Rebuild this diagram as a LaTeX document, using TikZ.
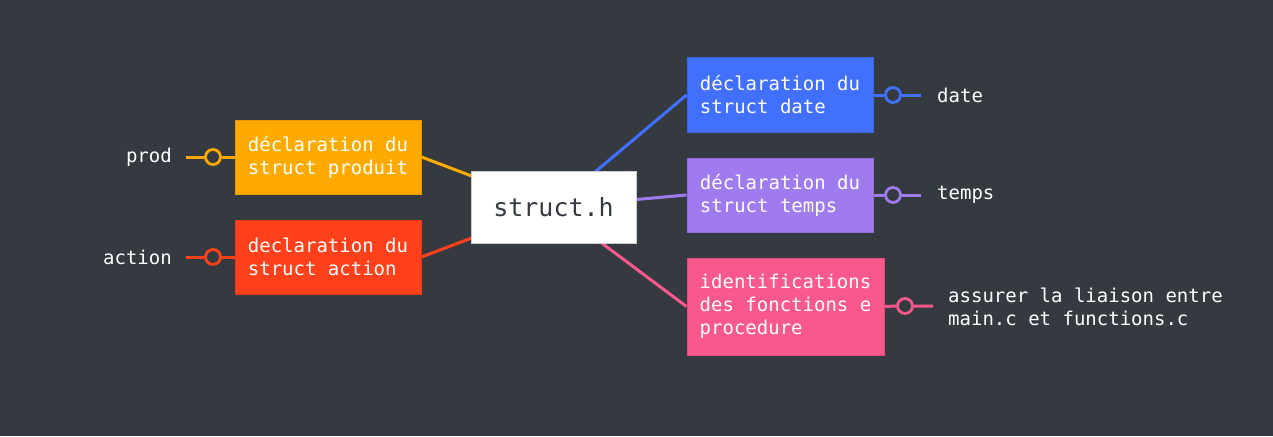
\documentclass[tikz,border=0pt]{standalone}
\usepackage{fontspec}
\setmonofont{DejaVu Sans Mono}
\definecolor{bgc}{RGB}{52,58,64}
\definecolor{cblue}{RGB}{65,112,255}
\definecolor{cpurple}{RGB}{160,122,239}
\definecolor{cpink}{RGB}{249,88,141}
\definecolor{corange}{RGB}{255,170,0}
\definecolor{cred}{RGB}{255,64,26}
\pgfdeclarelayer{back}
\pgfdeclarelayer{lines}
\pgfsetlayers{back,lines,main}
\begin{document}
\begin{tikzpicture}[x=1pt,y=-1pt,
  font=\ttfamily\fontsize{19}{23}\selectfont,
  box/.style={rectangle, minimum height=74pt, minimum width=186pt, inner sep=0pt,
    align=left, text=white, line width=1pt},
  leafc/.style={circle, minimum size=15pt, inner sep=0pt, line width=2.8pt, fill=bgc},
  conn/.style={line width=3pt},
  leaf/.style={text=white, inner sep=0pt, align=left}]
\begin{pgfonlayer}{back}
\fill[bgc] (0,0) rectangle (1273,436);
\end{pgfonlayer}
\useasboundingbox (0,0) rectangle (1273,436);

% centre
\node[rectangle, fill=white, draw=white!80!black, line width=0.6pt, minimum width=165pt, minimum height=72pt,
  text=bgc, font=\ttfamily\fontsize{25}{30}\selectfont] (root) at (553.5,207) {struct.h};

% boxes
\node[box, fill=cblue, draw=cblue!90!black] (date) at (780,95) {déclaration du\\struct date\phantom{xxx}};
\node[box, fill=cpurple, draw=cpurple!90!black] (temps) at (780,195) {déclaration du\\struct temps};
\node[box, fill=cpink, draw=cpink!90!black, minimum width=197pt, minimum height=97pt] (ident) at (785.5,306.5)
  {identifications\\des fonctions e\\procedure};
\node[box, fill=corange, draw=corange!90!black] (prod) at (328,157) {déclaration du\\struct produit};
\node[box, fill=cred, draw=cred!90!black] (act) at (328,257) {declaration du\\struct action};

% leaf circles
\node[leafc, draw=cblue] (dc) at (893,95) {};
\node[leafc, draw=cpurple] (tc) at (893,195) {};
\node[leafc, draw=cpink] (ic) at (905,306) {};
\node[leafc, draw=corange] (pc) at (213,157) {};
\node[leafc, draw=cred] (ac) at (213,257) {};

\coordinate (de) at (921,95);
\coordinate (te) at (921,195);
\coordinate (ie) at (933,306);
\coordinate (pe) at (186,157);
\coordinate (ae) at (186,257);

% leaf labels
\node[leaf, anchor=west] (dl) at (937,95) {date};
\node[leaf, anchor=west] (tl) at (937,195) {temps};
\node[leaf, anchor=west] (il) at (948,307) {assurer la liaison entre\\main.c et functions.c};
\node[leaf, anchor=east] (pl) at (172,157) {prod};
\node[leaf, anchor=east] (al) at (172,257) {action};

\begin{pgfonlayer}{lines}
\draw[conn, cblue] (root.center) -- (date.west);
\draw[conn, cpurple] (root.center) -- (temps.west);
\draw[conn, cpink] (root.center) -- (ident.west);
\draw[conn, corange] (root.center) -- (prod.east);
\draw[conn, cred] (root.center) -- (act.east);

\draw[conn, cblue] (date.east) -- (dc.west) (dc.east) -- (de);
\draw[conn, cpurple] (temps.east) -- (tc.west) (tc.east) -- (te);
\draw[conn, cpink] (ident.east) -- (ic.west) (ic.east) -- (ie);
\draw[conn, corange] (prod.west) -- (pc.east) (pc.west) -- (pe);
\draw[conn, cred] (act.west) -- (ac.east) (ac.west) -- (ae);
\end{pgfonlayer}
\end{tikzpicture}
\end{document}
